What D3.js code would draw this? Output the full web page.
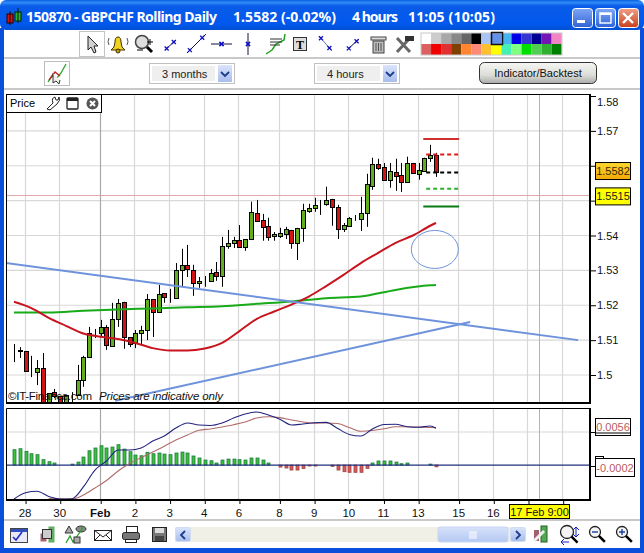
<!DOCTYPE html>
<html>
<head>
<meta charset="utf-8">
<style>
  html, body { margin: 0; padding: 0; background: #fff; overflow: hidden; }
  svg { display: block; font-family: "Liberation Sans", Arial, sans-serif; }
</style>
<script src="https://cdn.jsdelivr.net/npm/d3@7"></script>
</head>
<body>
<div id="vis"></div>
<script>
const FRAME_WIDTH = 644;
const FRAME_HEIGHT = 553;

// 4 hour candles, one entry per bar
const OPEN = [1.5072,1.5072,1.5069,1.5011,1.5009,1.5020,1.4914,1.4951,1.4940,1.4914,1.4943,1.4943,1.4986,1.5052,1.5118,1.5121,1.5138,1.5083,1.5161,1.5210,1.5109,1.5092,1.5121,1.5129,1.5218,1.5181,1.5235,1.5224,1.5221,1.5301,1.5316,1.5301,1.5264,1.5270,1.5270,1.5296,1.5284,1.5370,1.5379,1.5387,1.5367,1.5390,1.5465,1.5445,1.5428,1.5399,1.5399,1.5405,1.5416,1.5379,1.5422,1.5471,1.5479,1.5488,1.5491,1.5505,1.5482,1.5419,1.5428,1.5451,1.5448,1.5465,1.5542,1.5606,1.5597,1.5560,1.5583,1.5574,1.5554,1.5608,1.5577,1.5585,1.5623,1.5631];
const HIGH = [1.5089,1.5080,1.5069,1.5055,1.5043,1.5063,1.4948,1.4960,1.4940,1.4943,1.4951,1.5029,1.5055,1.5138,1.5132,1.5158,1.5143,1.5207,1.5218,1.5210,1.5109,1.5129,1.5141,1.5232,1.5218,1.5258,1.5235,1.5247,1.5321,1.5362,1.5373,1.5316,1.5281,1.5284,1.5304,1.5324,1.5396,1.5416,1.5396,1.5430,1.5390,1.5497,1.5502,1.5462,1.5451,1.5410,1.5422,1.5425,1.5416,1.5422,1.5491,1.5491,1.5508,1.5502,1.5540,1.5505,1.5488,1.5436,1.5453,1.5459,1.5511,1.5577,1.5623,1.5620,1.5608,1.5608,1.5620,1.5608,1.5626,1.5608,1.5608,1.5623,1.5660,1.5637];
const LOW = [1.5037,1.5049,1.5011,1.4994,1.4971,1.4910,1.4911,1.4934,1.4911,1.4911,1.4914,1.4940,1.4966,1.5052,1.5106,1.5109,1.5072,1.5083,1.5138,1.5075,1.5080,1.5077,1.5086,1.5100,1.5109,1.5178,1.5207,1.5207,1.5221,1.5253,1.5281,1.5227,1.5250,1.5253,1.5270,1.5270,1.5253,1.5362,1.5364,1.5367,1.5356,1.5387,1.5439,1.5385,1.5385,1.5385,1.5393,1.5390,1.5362,1.5330,1.5382,1.5465,1.5468,1.5459,1.5485,1.5428,1.5390,1.5410,1.5425,1.5442,1.5413,1.5425,1.5531,1.5588,1.5557,1.5537,1.5528,1.5525,1.5554,1.5577,1.5560,1.5583,1.5611,1.5568];
const CLOSE = [1.5072,1.5069,1.5011,1.5011,1.5020,1.4915,1.4948,1.4940,1.4914,1.4943,1.4943,1.4986,1.5052,1.5121,1.5118,1.5138,1.5086,1.5161,1.5207,1.5109,1.5089,1.5121,1.5129,1.5218,1.5181,1.5232,1.5224,1.5224,1.5301,1.5316,1.5304,1.5264,1.5270,1.5270,1.5293,1.5284,1.5370,1.5379,1.5387,1.5367,1.5390,1.5468,1.5442,1.5425,1.5396,1.5405,1.5408,1.5419,1.5379,1.5422,1.5474,1.5479,1.5488,1.5488,1.5502,1.5482,1.5419,1.5430,1.5451,1.5451,1.5465,1.5548,1.5606,1.5594,1.5560,1.5585,1.5571,1.5554,1.5608,1.5580,1.5588,1.5623,1.5631,1.5582];

const RED_MA_BARS = [0,3,6,9,12,15,18,21,24,27,30,33,36,39,42,45,48,51,54,57,60,63,66,69,72,73];
const RED_MA = [1.5210,1.5192,1.5164,1.5141,1.5119,1.5110,1.5103,1.5092,1.5077,1.5070,1.5070,1.5076,1.5092,1.5126,1.5161,1.5182,1.5202,1.5225,1.5255,1.5287,1.5321,1.5350,1.5379,1.5400,1.5428,1.5436];
const GREEN_MA_BARS = [0,6,12,18,24,30,36,42,48,54,60,66,72,73];
const GREEN_MA = [1.5179,1.5179,1.5184,1.5188,1.5191,1.5194,1.5197,1.5204,1.5211,1.5220,1.5225,1.5244,1.5257,1.5258];

// drawn objects on the price panel
const TREND_BARS = [[-1.4, 97.6], [17.5, 78.9]];
const TREND_PRICES = [[1.5321, 1.5100], [1.4926, 1.5152]];
const LEVEL_PRICES = [1.5677, 1.5632, 1.5581, 1.5534, 1.5483];
const LEVEL_COLORS = ["#d23030", "#e01818", "#000000", "#2fae2f", "#0a7a14"];
const LEVEL_DASHED = [false, true, true, true, false];
const LEVEL_START = [70.8, 71.3, 71.3, 71.3, 70.8];
const LEVEL_END = 77;
const LAST_PRICE = 1.5582;
const CURSOR_PRICE = 1.5515;
const CURSOR_BAR = 90.8;

// MACD panel
const MACD_BARS = [0,2,4,6,8,10,12,14,16,18,20,22,24,26,28,30,32,34,36,38,40,42,44,46,48,50,52,54,56,58,60,62,64,66,68,70,72,73];
const MACD = [-0.00034,0.00019,0.00031,-0.00013,-0.00034,-0.00032,0.00067,0.00209,0.00285,0.00377,0.00377,0.00394,0.00453,0.00495,0.00562,0.00604,0.00587,0.00583,0.00604,0.00646,0.0068,0.00697,0.00671,0.00635,0.00587,0.00596,0.00606,0.00609,0.00558,0.00508,0.00495,0.00554,0.00591,0.00593,0.00573,0.00568,0.00579,0.0056];
const SIGNAL_BARS = [6,10,12,14,16,18,20,22,24,26,28,30,32,34,36,38,40,42,44,46,48,50,52,54,56,58,60,62,64,66,68,70,72,73];
const SIGNAL = [-0.0003,-0.00034,-0.00001,0.00058,0.00121,0.00201,0.00264,0.00314,0.00361,0.00409,0.00461,0.00503,0.00543,0.00554,0.00571,0.0059,0.00613,0.00646,0.00656,0.00649,0.00629,0.00613,0.00603,0.00604,0.006,0.00566,0.00535,0.00541,0.00556,0.00572,0.00573,0.00571,0.00566,0.00565];
const HIST = [0.00129,0.00137,0.00115,0.00095,0.00087,0.00045,0.00028,0.00017,0,0,0.00008,0.00025,0.00067,0.0012,0.00143,0.00162,0.00143,0.00151,0.00171,0.00134,0.00112,0.00084,0.00078,0.00107,0.00095,0.00101,0.00092,0.00087,0.00101,0.00109,0.00101,0.00076,0.00059,0.00042,0.00036,0.00017,0.00042,0.0005,0.0005,0.00045,0.00042,0.00059,0.00059,0.00042,0.00017,0,-0.00017,-0.00025,-0.00042,-0.00042,-0.00028,-0.00008,-0.00008,0,0,-0.00011,-0.00042,-0.00056,-0.00061,-0.00061,-0.00061,-0.00028,0.00017,0.00034,0.00034,0.00034,0.00025,0.00011,0.00017,0,0,0,0.00008,-0.00015];

// axis labels
const PRICE_TICKS = [1.5, 1.51, 1.52, 1.53, 1.54, 1.55, 1.56, 1.57, 1.58];
const DATE_BARS = [2, 8, 15, 21, 27, 33, 39, 46, 52, 58, 64, 70, 77, 83, 89, 95];
const DATE_LABELS = ["28", "30", "Feb", "2", "3", "4", "6", "8", "9", "10", "11", "13", "15", "16", "", ""];

const PALETTE_TOP = ["#ffffff","#cccccc","#a8a8a8","#888888","#666666","#000000","#a9c4f2","#6492ea","#45b4f0","#0000e6","#3535d0","#000092","#7414b4","#f284c4"];
const PALETTE_BOTTOM = ["#dd6060","#f00000","#e03030","#804000","#ff8530","#ff8a78","#ffc030","#ffff00","#45f0b4","#80ff80","#00e000","#50d050","#30b030","#008000"];

const PLOT = { left: 6, right: 590, top: 94, bottom: 403 };
const SUB = { top: 408, bottom: 500 };

const X_SCALE = d3.scaleLinear().domain([0, 73]).range([14, 436]);
const Y_SCALE = d3.scaleLinear().domain([1.5, 1.58]).range([375, 96]);
const MACD_SCALE = d3.scaleLinear().domain([-0.0004, 0.0073]).range([499.7, 408]);
const HIST_SCALE = d3.scaleLinear().domain([-0.00291, 0.00479]).range([499.7, 408]);

const FRAME = d3
  .select("#vis")
  .append("svg")
  .attr("width", FRAME_WIDTH)
  .attr("height", FRAME_HEIGHT);

const DEFS = FRAME.append("defs");

function gradient(id, stops, horizontal) {
  const g = DEFS.append("linearGradient")
    .attr("id", id)
    .attr("x1", 0).attr("y1", 0)
    .attr("x2", horizontal ? 1 : 0).attr("y2", horizontal ? 0 : 1);
  stops.forEach((s) => {
    g.append("stop").attr("offset", s[0]).attr("stop-color", s[1]);
  });
}

gradient("titleBar", [[0, "#0a5fe0"], [0.08, "#2f8cf8"], [0.2, "#0a5ce8"], [0.8, "#0058ee"], [1, "#0350d0"]]);
gradient("btnBlue", [[0, "#7fa6f4"], [1, "#2f62d8"]]);
gradient("btnRed", [[0, "#f0a088"], [1, "#c8401c"]]);
gradient("indBtn", [[0, "#f6f6f2"], [0.6, "#dcdcd8"], [1, "#a8aca8"]]);
gradient("combo", [[0, "#dbe4fa"], [1, "#a8bdec"]]);
gradient("thumb", [[0, "#d8e2fa"], [1, "#b4c8f2"]]);
gradient("gold", [[0, "#ffd830"], [1, "#f2a808"]]);

DEFS.append("clipPath").attr("id", "plotClip").append("rect")
  .attr("x", PLOT.left).attr("y", PLOT.top)
  .attr("width", PLOT.right - PLOT.left).attr("height", PLOT.bottom - PLOT.top);
DEFS.append("clipPath").attr("id", "subClip").append("rect")
  .attr("x", PLOT.left).attr("y", SUB.top)
  .attr("width", PLOT.right - PLOT.left).attr("height", SUB.bottom - SUB.top);

// ---- window frame ----
const CHROME = FRAME.append("g");
CHROME.append("rect").attr("width", FRAME_WIDTH).attr("height", FRAME_HEIGHT).attr("fill", "#ffffff");
CHROME.append("rect").attr("x", 0).attr("y", 0).attr("width", 644).attr("height", 30)
  .attr("rx", 6).attr("fill", "url(#titleBar)");
CHROME.append("rect").attr("x", 0).attr("y", 28).attr("width", 4).attr("height", 525).attr("fill", "#0a4fdc");
CHROME.append("rect").attr("x", 640).attr("y", 28).attr("width", 4).attr("height", 525).attr("fill", "#0a4fdc");
CHROME.append("rect").attr("x", 0).attr("y", 548).attr("width", 644).attr("height", 5).attr("fill", "#0a4fdc");
[58, 89, 520].forEach((y) => {
  CHROME.append("rect").attr("x", 4).attr("y", y - 1).attr("width", 636).attr("height", 2).attr("fill", "#c9c9c9");
});

// title text
const TITLE_PARTS = [
  ["150870 - GBPCHF Rolling Daily", 26, 191],
  ["1.5582 (-0.02%)", 233, 103],
  ["4 hours", 352, 46],
  ["11:05 (10:05)", 408, 87],
];
TITLE_PARTS.forEach((p) => {
  CHROME.append("text")
    .attr("x", p[1]).attr("y", 22)
    .attr("textLength", p[2]).attr("lengthAdjust", "spacing")
    .attr("fill", "#ffffff")
    .style("font-family", "'Noto Sans', sans-serif")
    .style("font-weight", "bold")
    .style("font-size", "14px")
    .text(p[0]);
});

// little candle icon in the title
CHROME.append("rect").attr("x", 7).attr("y", 14).attr("width", 6).attr("height", 9).attr("fill", "#d81010").attr("stroke", "#200");
CHROME.append("line").attr("x1", 10).attr("x2", 10).attr("y1", 11).attr("y2", 25).attr("stroke", "#200");
CHROME.append("rect").attr("x", 15).attr("y", 12).attr("width", 6).attr("height", 9).attr("fill", "#30b030").attr("stroke", "#020");
CHROME.append("line").attr("x1", 18).attr("x2", 18).attr("y1", 8).attr("y2", 23).attr("stroke", "#020");

// window buttons
[[572, "btnBlue"], [595, "btnBlue"], [618, "btnRed"]].forEach((b) => {
  CHROME.append("rect").attr("x", b[0] + 0.5).attr("y", 8.5).attr("width", 20).attr("height", 19)
    .attr("rx", 3).attr("fill", "url(#" + b[1] + ")").attr("stroke", "#fff");
});
CHROME.append("rect").attr("x", 577).attr("y", 20).attr("width", 8).attr("height", 3).attr("fill", "#fff");
CHROME.append("rect").attr("x", 600).attr("y", 13).attr("width", 11).attr("height", 10).attr("fill", "none").attr("stroke", "#fff").attr("stroke-width", 1.4);
CHROME.append("line").attr("x1", 600).attr("x2", 611).attr("y1", 14).attr("y2", 14).attr("stroke", "#fff").attr("stroke-width", 2);
CHROME.append("path").attr("d", "M623,13L633,23M633,13L623,23").attr("stroke", "#fff").attr("stroke-width", 2.4);

// ---- upper toolbar icons ----
const TOOLS = FRAME.append("g");
TOOLS.append("rect").attr("x", 79.5).attr("y", 31.5).attr("width", 25).attr("height", 25).attr("fill", "#fff").attr("stroke", "#c4c4c4");
TOOLS.append("path").attr("d", "M88,36L88,50L91,47L94,53L96,52L94,46L98,46Z").attr("fill", "#d0d0d0").attr("stroke", "#222");
// bell
TOOLS.append("path").attr("d", "M111,50Q115,48 115,42Q115,37 118,37Q121,37 121,42Q121,48 125,50Z").attr("fill", "#f0d020").attr("stroke", "#403000");
TOOLS.append("circle").attr("cx", 118).attr("cy", 51).attr("r", 2).attr("fill", "#c8a000").attr("stroke", "#403000");
TOOLS.append("path").attr("d", "M109,38Q107,42 109,45M127,38Q129,42 127,45").attr("fill", "none").attr("stroke", "#555");
// magnifier
TOOLS.append("circle").attr("cx", 142).attr("cy", 42).attr("r", 6.5).attr("fill", "#ddd").attr("stroke", "#444").attr("stroke-width", 1.5);
TOOLS.append("line").attr("x1", 147).attr("y1", 47).attr("x2", 152).attr("y2", 52).attr("stroke", "#000").attr("stroke-width", 3);
TOOLS.append("path").attr("d", "M147,42h6M150,39v6M137,50h6").attr("stroke", "#000");
// line tools
const SEGMENTS = [[165, 50, 176, 40], [187, 53, 206, 34], [211, 44, 232, 44], [248, 33, 248, 55], [319, 36, 332, 51], [347, 50, 359, 39]];
SEGMENTS.forEach((s, i) => {
  TOOLS.append("line").attr("x1", s[0]).attr("y1", s[1]).attr("x2", s[2]).attr("y2", s[3]).attr("stroke", i === 4 ? "#6070c0" : "#101040");
  const t = [0.15, 0.8];
  t.forEach((k) => {
    const mx = s[0] + (s[2] - s[0]) * (i === 2 || i === 3 ? 0.5 : k);
    const my = s[1] + (s[3] - s[1]) * (i === 2 || i === 3 ? 0.5 : k);
    TOOLS.append("path").attr("d", `M${mx - 2},${my - 2}L${mx + 2},${my + 2}M${mx + 2},${my - 2}L${mx - 2},${my + 2}`)
      .attr("stroke", "#1010c0").attr("stroke-width", 1.3);
  });
});
// fibo icon
TOOLS.append("path").attr("d", "M266,54L272,50L276,44L284,40L285,34").attr("fill", "none").attr("stroke", "#20a020").attr("stroke-width", 1.5);
TOOLS.append("path").attr("d", "M270,39h12M270,42h12M270,45h10").attr("stroke", "#333");
// text tool
TOOLS.append("rect").attr("x", 293.5).attr("y", 37.5).attr("width", 13).attr("height", 13).attr("fill", "#ddd").attr("stroke", "#333");
TOOLS.append("text").attr("x", 300).attr("y", 49).attr("text-anchor", "middle").style("font-size", "12px").style("font-weight", "bold").style("font-family", "'Liberation Serif', serif").text("T");
// trash
TOOLS.append("rect").attr("x", 373).attr("y", 41).attr("width", 11).attr("height", 12).attr("fill", "#bbb").attr("stroke", "#444");
TOOLS.append("path").attr("d", "M376,43v8M378.5,43v8M381,43v8").attr("stroke", "#555");
TOOLS.append("rect").attr("x", 371).attr("y", 37).attr("width", 15).attr("height", 3).attr("fill", "#ddd").attr("stroke", "#444");
// tools
TOOLS.append("path").attr("d", "M397,38L410,52M410,38L397,52").attr("stroke", "#666").attr("stroke-width", 3);
TOOLS.append("rect").attr("x", 405).attr("y", 36).attr("width", 9).attr("height", 5).attr("fill", "#333");

// colour palette
[PALETTE_TOP, PALETTE_BOTTOM].forEach((row, r) => {
  TOOLS.selectAll(null)
    .data(row)
    .enter()
    .append("rect")
    .attr("x", (d, i) => 421 + i * 10.05)
    .attr("y", 33 + r * 11)
    .attr("width", 10.05)
    .attr("height", 11)
    .attr("fill", (d) => d);
});
TOOLS.append("rect").attr("x", 421).attr("y", 33).attr("width", 141).attr("height", 22).attr("fill", "none").attr("stroke", "#c8c8c8");
TOOLS.append("rect").attr("x", 491.5).attr("y", 32.5).attr("width", 11).attr("height", 12).attr("fill", "none").attr("stroke", "#111").attr("stroke-width", 1.5);

// second toolbar
TOOLS.append("rect").attr("x", 44.5).attr("y", 61.5).attr("width", 25).attr("height", 24).attr("fill", "#fff").attr("stroke", "#bdbdbd");
TOOLS.append("path").attr("d", "M48,82L52,76L56,79L61,73L66,64").attr("fill", "none").attr("stroke", "#28a028").attr("stroke-width", 1.3);
TOOLS.append("path").attr("d", "M49,80L55,72L60,76").attr("fill", "none").attr("stroke", "#c02020").attr("stroke-width", 1.3);
TOOLS.append("path").attr("d", "M53,73L53,83L56,81L59,84L60,80").attr("fill", "#eee").attr("stroke", "#333");

function combo(x, label) {
  TOOLS.append("rect").attr("x", x + 0.5).attr("y", 63.5).attr("width", 85).attr("height", 20).attr("fill", "#fff").attr("stroke", "#c0c0c0");
  TOOLS.append("rect").attr("x", x + 3).attr("y", 66).attr("width", 63).attr("height", 15).attr("fill", "#efefef");
  TOOLS.append("rect").attr("x", x + 69).attr("y", 65).attr("width", 14).attr("height", 17).attr("fill", "url(#combo)");
  TOOLS.append("path").attr("d", `M${x + 72},72L${x + 76},76L${x + 80},72`).attr("fill", "none").attr("stroke", "#1c3c90").attr("stroke-width", 1.8);
  TOOLS.append("text").attr("x", x + 13).attr("y", 78).style("font-size", "11px").attr("fill", "#222").text(label);
}
combo(149, "3 months");
combo(314, "4 hours");

TOOLS.append("rect").attr("x", 479.5).attr("y", 62.5).attr("width", 117).attr("height", 21).attr("rx", 5)
  .attr("fill", "url(#indBtn)").attr("stroke", "#333");
TOOLS.append("text").attr("x", 538).attr("y", 77).attr("text-anchor", "middle").style("font-size", "11px").attr("fill", "#111").text("Indicator/Backtest");

// ---- grids ----
const GRID = FRAME.append("g");
GRID.selectAll(null)
  .data(PRICE_TICKS.slice(0, 8))
  .enter()
  .append("line")
  .attr("x1", PLOT.left).attr("x2", PLOT.right)
  .attr("y1", (d) => Y_SCALE(d)).attr("y2", (d) => Y_SCALE(d))
  .attr("stroke", "#d8d8d8").attr("stroke-width", 1.2);
[[PLOT.top, PLOT.bottom], [SUB.top, SUB.bottom]].forEach((span) => {
  GRID.selectAll(null)
    .data(DATE_BARS)
    .enter()
    .append("line")
    .attr("x1", (d) => Math.round(X_SCALE(d)) - 0.5).attr("x2", (d) => Math.round(X_SCALE(d)) - 0.5)
    .attr("y1", span[0]).attr("y2", span[1])
    .attr("stroke", (d, i) => (DATE_LABELS[i] === "Feb" ? "#a8a8a8" : "#d8d8d8"))
    .attr("stroke-width", 1.2);
});
GRID.append("line").attr("x1", PLOT.left).attr("x2", PLOT.right)
  .attr("y1", 432).attr("y2", 432).attr("stroke", "#d8d8d8").attr("stroke-width", 1.2);

// cursor lines
GRID.append("line").attr("x1", PLOT.left).attr("x2", PLOT.right)
  .attr("y1", Math.round(Y_SCALE(CURSOR_PRICE)) + 0.5).attr("y2", Math.round(Y_SCALE(CURSOR_PRICE)) + 0.5)
  .attr("stroke", "#dfa8a8");
[[PLOT.top, PLOT.bottom], [SUB.top, SUB.bottom]].forEach((span) => {
  GRID.append("line")
    .attr("x1", Math.round(X_SCALE(CURSOR_BAR)) + 0.5).attr("x2", Math.round(X_SCALE(CURSOR_BAR)) + 0.5)
    .attr("y1", span[0]).attr("y2", span[1])
    .attr("stroke", "#dfa0a0");
});

// ---- candles ----
const PRICE_G = FRAME.append("g").attr("clip-path", "url(#plotClip)");

PRICE_G.selectAll(".wick")
  .data(OPEN)
  .enter()
  .append("line")
  .attr("class", "wick")
  .attr("x1", (d, i) => Math.round(X_SCALE(i)) + 0.5)
  .attr("x2", (d, i) => Math.round(X_SCALE(i)) + 0.5)
  .attr("y1", (d, i) => Y_SCALE(HIGH[i]))
  .attr("y2", (d, i) => Y_SCALE(LOW[i]))
  .attr("stroke", "#000");

PRICE_G.selectAll(".body")
  .data(OPEN)
  .enter()
  .append("rect")
  .attr("class", "body")
  .attr("x", (d, i) => Math.round(X_SCALE(i)) - 1.5)
  .attr("y", (d, i) => Math.round(Y_SCALE(Math.max(d, CLOSE[i]))) + 0.5)
  .attr("width", 4)
  .attr("height", (d, i) => Math.max(0, Math.round(Math.abs(Y_SCALE(d) - Y_SCALE(CLOSE[i])))))
  .attr("fill", (d, i) => (CLOSE[i] >= d ? "#62ae1c" : "#d41414"))
  .attr("stroke", "#000");

// moving averages
const LINE = (bars) =>
  d3.line()
    .x((d, i) => X_SCALE(bars[i]))
    .y((d) => Y_SCALE(d))
    .curve(d3.curveMonotoneX);

PRICE_G.append("path").datum(GREEN_MA).attr("d", LINE(GREEN_MA_BARS))
  .attr("fill", "none").attr("stroke", "#18aa18").attr("stroke-width", 2);
PRICE_G.append("path").datum(RED_MA).attr("d", LINE(RED_MA_BARS))
  .attr("fill", "none").attr("stroke", "#c8141e").attr("stroke-width", 2);

// trend lines
TREND_BARS.forEach((bars, k) => {
  PRICE_G.append("line")
    .attr("x1", X_SCALE(bars[0])).attr("x2", X_SCALE(bars[1]))
    .attr("y1", Y_SCALE(TREND_PRICES[k][0])).attr("y2", Y_SCALE(TREND_PRICES[k][1]))
    .attr("stroke", "#6e93dc").attr("stroke-width", 2);
});

// target levels
PRICE_G.selectAll(".level")
  .data(LEVEL_PRICES)
  .enter()
  .append("line")
  .attr("class", "level")
  .attr("x1", (d, i) => X_SCALE(LEVEL_START[i]))
  .attr("x2", X_SCALE(LEVEL_END))
  .attr("y1", (d) => Y_SCALE(d))
  .attr("y2", (d) => Y_SCALE(d))
  .attr("stroke", (d, i) => LEVEL_COLORS[i])
  .attr("stroke-width", 2)
  .attr("stroke-dasharray", (d, i) => (LEVEL_DASHED[i] ? "4,3" : null));

// hand drawn ellipse
PRICE_G.append("ellipse")
  .attr("cx", X_SCALE(72.8)).attr("cy", Y_SCALE(1.5360))
  .attr("rx", 23.5).attr("ry", 19)
  .attr("fill", "none").attr("stroke", "#6e93dc").attr("stroke-width", 1);

// watermark
FRAME.append("text").attr("x", 8).attr("y", 400).attr("textLength", 84).style("font-size", "11.5px").attr("fill", "#111").text("©IT-Finance.com");
FRAME.append("text").attr("x", 99).attr("y", 400).attr("textLength", 124).style("font-size", "11.5px").style("font-style", "italic").attr("fill", "#111").text("Prices are indicative only");

// ---- macd panel ----
const SUB_G = FRAME.append("g").attr("clip-path", "url(#subClip)");

SUB_G.selectAll(".hist")
  .data(HIST.map((v, i) => ({ v: v, bar: i })).filter((d) => d.v !== 0))
  .enter()
  .append("rect")
  .attr("class", "hist")
  .attr("x", (d) => Math.round(X_SCALE(d.bar)) - 1)
  .attr("width", 3)
  .attr("y", (d) => Math.min(HIST_SCALE(d.v), HIST_SCALE(0)))
  .attr("height", (d) => Math.abs(HIST_SCALE(d.v) - HIST_SCALE(0)))
  .attr("fill", (d) => (d.v > 0 ? "#3cc03c" : "#d85a5a"))
  .attr("stroke", (d) => (d.v > 0 ? "#1c7a40" : "#a04040"))
  .attr("stroke-width", 0.8);

SUB_G.append("line").attr("x1", PLOT.left).attr("x2", PLOT.right)
  .attr("y1", HIST_SCALE(0)).attr("y2", HIST_SCALE(0))
  .attr("stroke", "#20307e").attr("stroke-width", 1.2);

const MACD_LINE = (bars) =>
  d3.line()
    .x((d, i) => X_SCALE(bars[i]))
    .y((d) => MACD_SCALE(d))
    .curve(d3.curveMonotoneX);

SUB_G.append("path").datum(SIGNAL).attr("d", MACD_LINE(SIGNAL_BARS))
  .attr("fill", "none").attr("stroke", "#b06a6a").attr("stroke-width", 1.1);
SUB_G.append("path").datum(MACD).attr("d", MACD_LINE(MACD_BARS))
  .attr("fill", "none").attr("stroke", "#23237e").attr("stroke-width", 1.1);

// ---- borders ----
const BORDERS = FRAME.append("g");
BORDERS.append("path")
  .attr("d", `M${PLOT.left + 0.5},${PLOT.bottom}V${PLOT.top + 0.5}H${PLOT.right}`)
  .attr("fill", "none").attr("stroke", "#000");
BORDERS.append("path")
  .attr("d", `M${PLOT.right},${PLOT.top}V${PLOT.bottom}H${PLOT.left}`)
  .attr("fill", "none").attr("stroke", "#000").attr("stroke-width", 2);
BORDERS.append("path")
  .attr("d", `M${PLOT.left + 0.5},${SUB.bottom}V${SUB.top + 0.5}H${PLOT.right}`)
  .attr("fill", "none").attr("stroke", "#000");
BORDERS.append("path")
  .attr("d", `M${PLOT.right},${SUB.top}V${SUB.bottom}H${PLOT.left}`)
  .attr("fill", "none").attr("stroke", "#000").attr("stroke-width", 2);

// price tab
BORDERS.append("rect").attr("x", 6.5).attr("y", 94.5).attr("width", 95).attr("height", 18).attr("fill", "#fff").attr("stroke", "#000");
BORDERS.append("text").attr("x", 10).attr("y", 107).style("font-size", "11px").text("Price");
BORDERS.append("path").attr("d", "M47,109L53,103Q51,98 55,97L56,100L58,100L59,97Q61,100 57,104L50,110Z").attr("fill", "#fff").attr("stroke", "#222");
BORDERS.append("rect").attr("x", 67).attr("y", 98).attr("width", 11).attr("height", 11).attr("rx", 1).attr("fill", "#fff").attr("stroke", "#222").attr("stroke-width", 1.3);
BORDERS.append("rect").attr("x", 67).attr("y", 98).attr("width", 11).attr("height", 3).attr("fill", "#222");
BORDERS.append("circle").attr("cx", 92.5).attr("cy", 103.5).attr("r", 6).attr("fill", "#555");
BORDERS.append("path").attr("d", "M90,101L95,106M95,101L90,106").attr("stroke", "#fff").attr("stroke-width", 2);

// ---- axes ----
// 1.55 sits fully behind the yellow cursor flag, so it gets a tick but no label
const PRICE_AXIS = FRAME.append("g")
  .attr("transform", `translate(${PLOT.right},0)`)
  .call(
    d3.axisRight(Y_SCALE)
      .tickValues(PRICE_TICKS)
      .tickSize(6)
      .tickSizeOuter(0)
      .tickFormat((d) => (d === 1.55 ? "" : String(d)))
  );
PRICE_AXIS.select(".domain").remove();
PRICE_AXIS.selectAll("text")
  .attr("x", 7)
  .attr("dy", (d) => (d === 1.58 ? "9px" : "0.32em"))
  .style("font-size", "11px")
  .style("font-family", "'Liberation Sans', Arial, sans-serif")
  .attr("fill", "#111");

const DATE_AXIS = FRAME.append("g")
  .attr("transform", `translate(0,${SUB.bottom})`)
  .call(
    d3.axisBottom(X_SCALE)
      .tickValues(DATE_BARS)
      .tickSize(4)
      .tickSizeOuter(0)
      .tickFormat((d) => DATE_LABELS[DATE_BARS.indexOf(d)])
  );
DATE_AXIS.select(".domain").remove();
DATE_AXIS.selectAll("text")
  .attr("x", -1)
  .attr("y", 17)
  .attr("dy", 0)
  .style("font-size", "11.5px")
  .style("font-family", "'Liberation Sans', Arial, sans-serif")
  .style("font-weight", (d, i) => (DATE_LABELS[i] === "Feb" ? "bold" : "normal"))
  .attr("fill", "#111");

// value flags
function flag(x, y, w, h, fill, color, label) {
  const g = FRAME.append("g");
  g.append("rect").attr("x", x + 0.5).attr("y", y + 0.5).attr("width", w).attr("height", h).attr("fill", fill).attr("stroke", "#000");
  g.append("text").attr("x", x + w / 2 + 0.5).attr("y", y + h / 2 + 4.5).attr("text-anchor", "middle")
    .style("font-size", "11px").attr("fill", color).text(label);
}
flag(595, Y_SCALE(LAST_PRICE) - 10, 35, 17, "url(#gold)", "#3a2a00", LAST_PRICE.toFixed(4));
flag(595, Y_SCALE(CURSOR_PRICE) - 8, 35, 17, "#ffff00", "#222", CURSOR_PRICE.toFixed(4));
FRAME.append("line").attr("x1", 590).attr("x2", 595).attr("y1", 432.5).attr("y2", 432.5).attr("stroke", "#000");
FRAME.append("line").attr("x1", 590).attr("x2", 595).attr("y1", 466.5).attr("y2", 466.5).attr("stroke", "#000");
FRAME.append("rect").attr("x", 595.5).attr("y", 456.5).attr("width", 8).attr("height", 4).attr("fill", "#fff").attr("stroke", "#000");
flag(595, 418, 35, 17, "#fff", "#b85c5c", MACD[MACD.length - 1].toFixed(4));
FRAME.append("line").attr("x1", 595).attr("x2", 631).attr("y1", 433).attr("y2", 433).attr("stroke", "#000");
flag(595, 458, 39, 18, "#fff", "#b85c5c", "-0.0002");
flag(509, 504, 60, 14, "#ffff00", "#111", "17 Feb 9:00");

// ---- bottom toolbar ----
const BOTTOM = FRAME.append("g");
// calendar
BOTTOM.append("rect").attr("x", 10.5).attr("y", 528.5).attr("width", 17).attr("height", 14).attr("fill", "#e8e8f8").attr("stroke", "#444");
BOTTOM.append("rect").attr("x", 11).attr("y", 529).attr("width", 16).attr("height", 3).attr("fill", "#3050c0");
BOTTOM.append("path").attr("d", "M13,537L16,540L22,532").attr("fill", "none").attr("stroke", "#2030c0").attr("stroke-width", 1.6);
// saved chart
BOTTOM.append("rect").attr("x", 40.5).attr("y", 533.5).attr("width", 6).attr("height", 8).attr("fill", "#b06070");
BOTTOM.append("rect").attr("x", 48.5).attr("y", 526.5).attr("width", 6).attr("height", 16).attr("fill", "#60b060");
BOTTOM.append("rect").attr("x", 42.5).attr("y", 529.5).attr("width", 9).attr("height", 9).attr("fill", "#ccc").attr("stroke", "#333");
// shapes
BOTTOM.append("path").attr("d", "M69,526L73,533H65Z").attr("fill", "#aaa").attr("stroke", "#333");
BOTTOM.append("ellipse").attr("cx", 81).attr("cy", 529).attr("rx", 5).attr("ry", 3).attr("fill", "#888").attr("stroke", "#333");
BOTTOM.append("path").attr("d", "M66,543L70,536L73,542L80,532L84,526").attr("fill", "none").attr("stroke", "#28a028").attr("stroke-width", 1.3);
BOTTOM.append("rect").attr("x", 74).attr("y", 537).attr("width", 6).attr("height", 6).attr("fill", "#aaa").attr("stroke", "#333");
// mail
BOTTOM.append("rect").attr("x", 94.5).attr("y", 530.5).attr("width", 17).attr("height", 10).attr("fill", "#fff").attr("stroke", "#222");
BOTTOM.append("path").attr("d", "M94,530L103,537L112,530M94,541L100,535M112,541L106,535").attr("fill", "none").attr("stroke", "#222");
// printer
BOTTOM.append("rect").attr("x", 126.5).attr("y", 526.5).attr("width", 11).attr("height", 6).attr("fill", "#fff").attr("stroke", "#222");
BOTTOM.append("rect").attr("x", 122.5).attr("y", 532.5).attr("width", 17).attr("height", 7).attr("rx", 2).attr("fill", "#777").attr("stroke", "#222");
BOTTOM.append("rect").attr("x", 125.5).attr("y", 539.5).attr("width", 11).attr("height", 3).attr("fill", "#fff").attr("stroke", "#222");
// floppy
BOTTOM.append("rect").attr("x", 152.5).attr("y", 527.5).attr("width", 14).attr("height", 14).attr("fill", "#777").attr("stroke", "#222");
BOTTOM.append("rect").attr("x", 155).attr("y", 528).attr("width", 9).attr("height", 5).attr("fill", "#ddd");
BOTTOM.append("rect").attr("x", 155).attr("y", 536).attr("width", 9).attr("height", 5).attr("fill", "#444");
// scrollbar
BOTTOM.append("rect").attr("x", 175).attr("y", 527).attr("width", 350).attr("height", 15).attr("fill", "#f1f0e6");
BOTTOM.append("rect").attr("x", 175.5).attr("y", 527.5).attr("width", 15).attr("height", 14).attr("rx", 2).attr("fill", "url(#combo)").attr("stroke", "#d0dcf4");
BOTTOM.append("path").attr("d", "M185,531L181,535L185,539").attr("fill", "none").attr("stroke", "#1c3c90").attr("stroke-width", 1.8);
BOTTOM.append("rect").attr("x", 510.5).attr("y", 527.5).attr("width", 15).attr("height", 14).attr("rx", 2).attr("fill", "url(#combo)").attr("stroke", "#d0dcf4");
BOTTOM.append("path").attr("d", "M516,531L520,535L516,539").attr("fill", "none").attr("stroke", "#1c3c90").attr("stroke-width", 1.8);
BOTTOM.append("rect").attr("x", 438).attr("y", 527).attr("width", 70).attr("height", 15).attr("rx", 2).attr("fill", "url(#thumb)").attr("stroke", "#c8d6f4");
BOTTOM.append("path").attr("d", "M470,531v8M472,531v8M474,531v8M476,531v8").attr("stroke", "#fff");
// right side icons
BOTTOM.append("rect").attr("x", 534).attr("y", 530).attr("width", 5).attr("height", 11).attr("fill", "#a06070");
BOTTOM.append("rect").attr("x", 541).attr("y", 526).attr("width", 6).attr("height", 16).attr("fill", "#50a850").attr("stroke", "#286028");
BOTTOM.append("path").attr("d", "M534,541L544,531").attr("stroke", "#eee").attr("stroke-width", 3);
function glass(cx, cy, r, sign) {
  BOTTOM.append("circle").attr("cx", cx).attr("cy", cy).attr("r", r).attr("fill", "#f4f4f4").attr("stroke", "#222").attr("stroke-width", 1.3);
  BOTTOM.append("line").attr("x1", cx + r * 0.7).attr("y1", cy + r * 0.7).attr("x2", cx + r * 0.7 + 6).attr("y2", cy + r * 0.7 + 6).attr("stroke", "#000").attr("stroke-width", 2.5);
  if (sign) {
    BOTTOM.append("path").attr("d", sign === "+" ? `M${cx - 3},${cy}h6M${cx},${cy - 3}v6` : `M${cx - 3},${cy}h6`).attr("stroke", "#1c3ca0").attr("stroke-width", 1.4);
  }
}
glass(567, 532, 6.5, null);
BOTTOM.append("path").attr("d", "M576,527v10M573,530l3,-3l3,3M573,534l3,3l3,-3M561,542h8M564,539l-3,3l3,3").attr("fill", "none").attr("stroke", "#1020c0");
glass(595, 532, 5.5, "-");
glass(622, 532, 5.5, "+");
</script>
</body>
</html>
